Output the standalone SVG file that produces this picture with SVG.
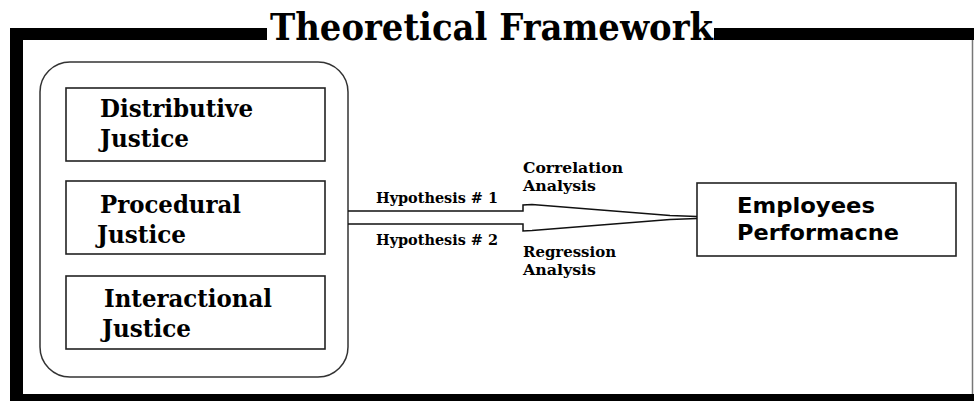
<svg xmlns="http://www.w3.org/2000/svg" width="974" height="401" viewBox="0 0 974 401">
<style>
.frame{fill:#000}
.box{fill:#fff;stroke:#222;stroke-width:1.6}
.serif{font-family:"DejaVu Serif","Liberation Serif",serif;font-weight:bold;fill:#000}
.big{font-size:24px}
.small{font-size:15px}
.sans{font-family:"DejaVu Sans","Liberation Sans",sans-serif;font-weight:bold;font-size:22px;fill:#000}
.conn{fill:none;stroke:#111;stroke-width:1.5}
</style>
<rect width="974" height="401" fill="#fff"/>
<g id="frame">
<rect class="frame" x="10" y="28" width="257" height="12"/>
<rect class="frame" x="714" y="28" width="260" height="12"/>
<rect class="frame" x="10" y="28" width="13" height="373"/>
<rect class="frame" x="10" y="394" width="964" height="7"/>
<line x1="972.5" y1="40" x2="972.5" y2="394" stroke="#777" stroke-width="1.5"/>
<text class="serif" x="270" y="40" font-size="38" textLength="443" lengthAdjust="spacingAndGlyphs">Theoretical Framework</text>
</g>
<g id="container">
<rect x="40" y="62" width="308" height="315" rx="30" ry="30" fill="none" stroke="#333" stroke-width="1.5"/>
</g>
<g id="distributive">
<rect class="box" x="66" y="88" width="259" height="73"/>
<text class="serif big" x="100" y="117" textLength="153" lengthAdjust="spacingAndGlyphs">Distributive</text>
<text class="serif big" x="100" y="147" textLength="89" lengthAdjust="spacingAndGlyphs">Justice</text>
</g>
<g id="procedural">
<rect class="box" x="66" y="181" width="259" height="73"/>
<text class="serif big" x="100" y="213" textLength="141" lengthAdjust="spacingAndGlyphs">Procedural</text>
<text class="serif big" x="97" y="243" textLength="89" lengthAdjust="spacingAndGlyphs">Justice</text>
</g>
<g id="interactional">
<rect class="box" x="66" y="276" width="259" height="73"/>
<text class="serif big" x="104" y="307" textLength="168" lengthAdjust="spacingAndGlyphs">Interactional</text>
<text class="serif big" x="102" y="337" textLength="89" lengthAdjust="spacingAndGlyphs">Justice</text>
</g>
<g id="employees">
<rect class="box" x="697" y="183" width="259" height="73"/>
<text class="sans" x="737" y="213" textLength="138" lengthAdjust="spacingAndGlyphs">Employees</text>
<text class="sans" x="737" y="240" textLength="162" lengthAdjust="spacingAndGlyphs">Performacne</text>
</g>
<g id="connectors">
<path class="conn" d="M348,211 L523,211 L523,205 L532,204.5 L670,215.5 L697,216.5 M348,224 L523,224 L523,231 L532,230.5 L670,219.5 L697,218.5"/>
<text class="serif small" x="376" y="203" textLength="122" lengthAdjust="spacingAndGlyphs">Hypothesis # 1</text>
<text class="serif small" x="376" y="245" textLength="122" lengthAdjust="spacingAndGlyphs">Hypothesis # 2</text>
<text class="serif small" x="523" y="173" textLength="100" lengthAdjust="spacingAndGlyphs">Correlation</text>
<text class="serif small" x="523" y="191" textLength="73" lengthAdjust="spacingAndGlyphs">Analysis</text>
<text class="serif small" x="523" y="257" textLength="93" lengthAdjust="spacingAndGlyphs">Regression</text>
<text class="serif small" x="523" y="275" textLength="73" lengthAdjust="spacingAndGlyphs">Analysis</text>
</g>
</svg>
